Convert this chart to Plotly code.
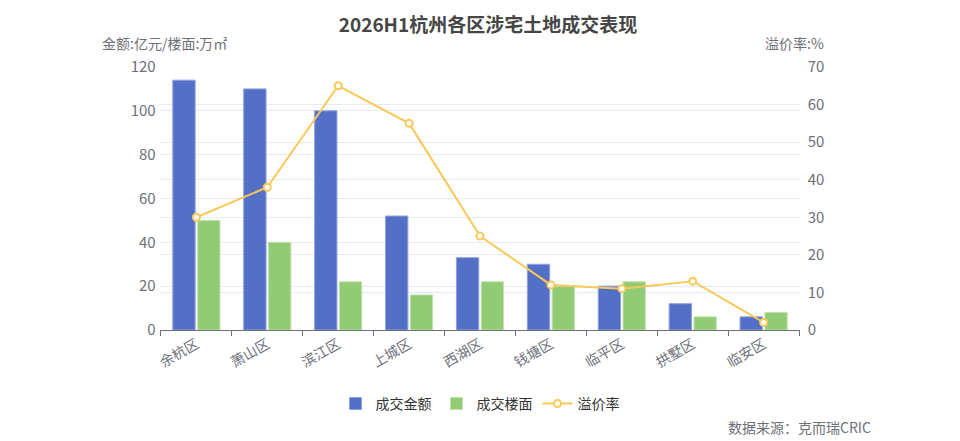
import plotly.graph_objects as go

districts = ['余杭区', '萧山区', '滨江区', '上城区', '西湖区', '钱塘区', '临平区', '拱墅区', '临安区']
amount = [114, 110, 100, 52, 33, 30, 20, 12, 6]
floor_area = [50, 40, 22, 16, 22, 20, 22, 6, 8]
premium = [30, 38, 65, 55, 25, 12, 11, 13, 2]

font_family = 'Noto Sans CJK SC'
grey = '#6e7079'

fig = go.Figure()
fig.add_trace(go.Bar(x=districts, y=amount, name='成交金额',
                     marker=dict(color='#5470c6', line=dict(color='#8ea0e0', width=1))))
fig.add_trace(go.Bar(x=districts, y=floor_area, name='成交楼面',
                     marker=dict(color='#91cc75', line=dict(color='#bfe3ad', width=1))))
fig.add_trace(go.Scatter(x=districts, y=premium, name='溢价率', yaxis='y2',
                         mode='lines+markers',
                         line=dict(color='#fac858', width=2),
                         marker=dict(symbol='circle', size=7, color='white',
                                     line=dict(color='#fac858', width=2))))

# the page adds an 8px body margin, so margins are shifted by that
fig.update_layout(
    width=960, height=441,
    margin=dict(l=152, r=168, t=59, b=119),
    plot_bgcolor='white', paper_bgcolor='white',
    font=dict(family=font_family, color=grey, size=14),
    title=dict(text='<b>2026H1杭州各区涉宅土地成交表现</b>', x=0.5, xanchor='center',
               y=0.96, yanchor='middle', font=dict(size=19, color='#464646')),
    barmode='group', bargap=0.3, bargroupgap=0.1,
    xaxis=dict(tickangle=-30, showline=True, linecolor=grey, linewidth=1,
               ticks='outside', tickson='boundaries', ticklen=5, tickcolor=grey,
               showgrid=False, tickfont=dict(size=14, color=grey)),
    yaxis=dict(range=[0, 120], dtick=20, showgrid=True, gridcolor='#e6e9f2',
               zeroline=False, showline=False, tickfont=dict(size=15, color=grey),
               ticksuffix=' '),
    yaxis2=dict(range=[0, 70], dtick=10, overlaying='y', side='right',
                showgrid=True, gridcolor='#e6e9f2', zeroline=False,
                tickfont=dict(size=15, color=grey), tickprefix='  '),
    legend=dict(orientation='h', x=0.5, xanchor='center', y=-0.281, yanchor='middle',
                font=dict(size=14, color='#333333'), itemwidth=30),
    showlegend=True,
)

fig.add_annotation(text='金额:亿元/楼面:万㎡', xref='paper', yref='paper', x=-0.094, y=1.091,
                   xanchor='left', yanchor='middle', showarrow=False,
                   font=dict(size=14, color=grey))
fig.add_annotation(text='溢价率:%', xref='paper', yref='paper', x=1.041, y=1.091,
                   xanchor='right', yanchor='middle', showarrow=False,
                   font=dict(size=14, color=grey))
fig.add_annotation(text='数据来源：克而瑞CRIC', xref='paper', yref='paper', x=1.114, y=-0.369,
                   xanchor='right', yanchor='middle', showarrow=False,
                   font=dict(size=14, color=grey))

fig.write_html("out.html")
